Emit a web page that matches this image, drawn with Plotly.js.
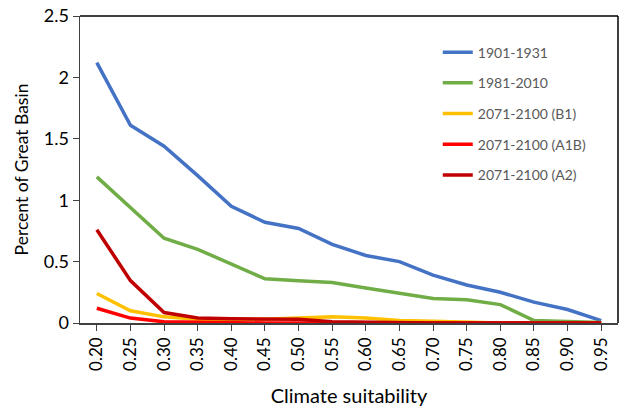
<!DOCTYPE html>
<html><head><meta charset="utf-8">
<script src="https://cdn.plot.ly/plotly-3.0.1.min.js"></script>
<style>html,body{margin:0;padding:0;background:#fff;}#chart{width:627px;height:408px;}</style>
</head><body><div id="chart"></div>
<script>
const categories = ["0.20","0.25","0.30","0.35","0.40","0.45","0.50","0.55","0.60","0.65","0.70","0.75","0.80","0.85","0.90","0.95"];
const seriesNames = ["1901-1931","1981-2010","2071-2100 (B1)","2071-2100 (A1B)","2071-2100 (A2)"];
const v1901 = [2.12,1.61,1.44,1.20,0.95,0.82,0.77,0.64,0.55,0.50,0.39,0.31,0.25,0.17,0.11,0.02];
const v1981 = [1.19,0.94,0.69,0.60,0.48,0.36,0.345,0.33,0.285,0.24,0.20,0.19,0.15,0.02,0.01,0.005];
const vB1 = [0.24,0.10,0.05,0.03,0.03,0.03,0.04,0.05,0.04,0.02,0.015,0.005,0,0,0,0];
const vA1B = [0.12,0.04,0.01,0.005,0,0,0,0,0,0,0,0,0,0,0,0];
const vA2 = [0.76,0.345,0.085,0.04,0.035,0.035,0.03,0.01,0.005,0,0,0,0,0,0,0];
const colors = ["#4472C4","#70AD47","#FFC000","#FF0000","#C00000"];
const values = [v1901, v1981, vB1, vA1B, vA2];
const FONT = "Lato, 'Open Sans', sans-serif";
const traces = values.map((v,i)=>({
  x: categories, y: v, type:'scatter', mode:'lines', name: seriesNames[i],
  legendgroup: 'g'+i,
  line:{color:colors[i], width:3.5}
}));
const layout = {
  width:627, height:408,
  margin:{l:80, r:9, t:16, b:85},
  paper_bgcolor:'#fff', plot_bgcolor:'#fff',
  showlegend:true,
  legend:{x:0.665, y:0.933, xanchor:'left', yanchor:'top', font:{family:FONT, size:14, color:'#595959'}, tracegroupgap:9.5, bgcolor:'rgba(0,0,0,0)'},
  xaxis:{type:'category', categoryorder:'array', categoryarray:categories, range:[-0.5,15.5],
    tickangle:-90, tickfont:{family:FONT, size:17, color:'#000'},
    ticks:'outside', ticklen:6, tickcolor:'#404040', showline:true, linecolor:'#404040', linewidth:1.5, mirror:false,
    showgrid:false, zeroline:false,
    title:{text:'Climate suitability', font:{family:FONT, size:20, color:'#000'}, standoff:19}},
  yaxis:{range:[0,2.5], dtick:0.5, tickvals:[0,0.5,1,1.5,2,2.5], ticktext:['0','0.5','1','1.5','2','2.5'],
    tickfont:{family:FONT, size:18, color:'#000'},
    ticks:'outside', ticklen:6, tickcolor:'#404040', showline:true, linecolor:'#404040', linewidth:1.5,
    showgrid:false, zeroline:false,
    title:{text:'Percent of Great Basin', font:{family:FONT, size:17.5, color:'#000'}, standoff:10}},
  shapes:[
    {type:'line', xref:'paper', yref:'paper', x0:0, x1:1, y0:1, y1:1, line:{color:'#000', width:1.5}},
    {type:'line', xref:'paper', yref:'paper', x0:1, x1:1, y0:0, y1:1, line:{color:'#000', width:1.5}}
  ]
};
Plotly.newPlot('chart', traces, layout, {displayModeBar:false, staticPlot:true});
</script></body></html>
